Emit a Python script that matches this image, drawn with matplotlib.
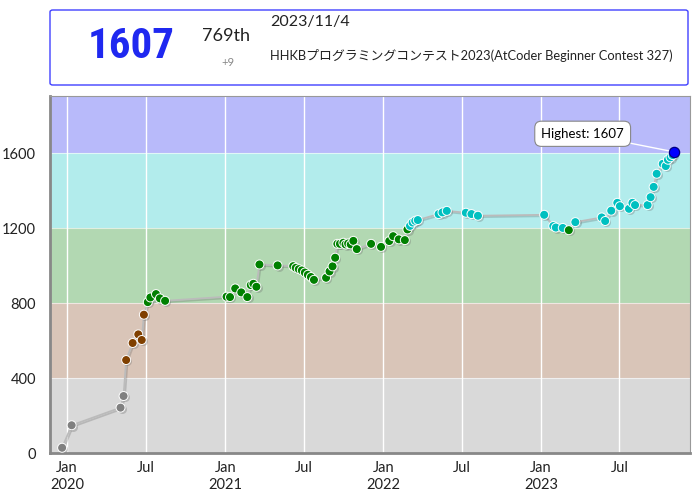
import numpy as np
import pandas as pd
import matplotlib
matplotlib.use('Agg')
import matplotlib.pyplot as plt
import matplotlib.dates as mdates
import matplotlib.patheffects as pe
import matplotlib.transforms as mtransforms
from matplotlib.patches import FancyBboxPatch

plt.rcParams['font.family'] = ['Lato', 'Noto Sans CJK JP', 'DejaVu Sans']

# ---- data ----
dates = [
    '2019-12-21', '2020-01-12', '2020-05-04', '2020-05-11', '2020-05-17', '2020-06-01',
    '2020-06-14', '2020-06-22', '2020-06-27', '2020-07-06', '2020-07-12', '2020-07-25',
    '2020-08-03', '2020-08-15',
    '2021-01-04', '2021-01-12', '2021-01-24', '2021-02-07', '2021-02-21', '2021-03-01',
    '2021-03-07', '2021-03-14', '2021-03-21', '2021-05-02', '2021-06-07', '2021-06-13',
    '2021-06-20', '2021-06-27', '2021-07-04', '2021-07-11', '2021-07-18', '2021-07-25',
    '2021-08-22', '2021-08-30', '2021-09-06', '2021-09-12', '2021-09-17', '2021-09-23',
    '2021-10-01', '2021-10-06', '2021-10-12', '2021-10-18', '2021-10-24', '2021-11-01',
    '2021-12-04', '2021-12-27',
    '2022-01-15', '2022-01-24', '2022-02-06', '2022-02-20', '2022-02-26', '2022-03-04',
    '2022-03-10', '2022-03-16', '2022-03-22', '2022-05-09', '2022-05-18', '2022-05-28',
    '2022-07-11', '2022-07-24', '2022-08-08',
    '2023-01-08', '2023-01-29', '2023-02-04', '2023-02-20', '2023-03-06', '2023-03-21',
    '2023-05-21', '2023-05-29', '2023-06-12', '2023-06-26', '2023-07-02', '2023-07-23',
    '2023-07-31', '2023-08-06', '2023-09-04', '2023-09-11', '2023-09-18', '2023-09-25',
    '2023-10-09', '2023-10-16', '2023-10-21', '2023-10-27', '2023-11-01', '2023-11-04',
]
ratings = [
    28, 148, 242, 304, 496, 587, 633, 603, 738, 805, 830, 848, 825, 812,
    834, 832, 878, 857, 832, 896, 903, 887, 1006, 1001, 997, 988,
    981, 974, 963, 951, 939, 924, 935, 969, 996, 1042, 1116, 1116,
    1122, 1113, 1118, 1113, 1132, 1088, 1116, 1100,
    1131, 1157, 1140, 1136, 1193, 1212, 1230, 1239, 1243, 1275, 1284, 1292,
    1282, 1275, 1266,
    1271, 1211, 1203, 1201, 1189, 1232, 1257, 1238, 1293, 1335, 1317, 1303,
    1335, 1323, 1323, 1365, 1420, 1490, 1543, 1531, 1565, 1578, 1590, 1607,
]

band_edges = [0, 400, 800, 1200, 1600, 1905]
band_colors = ['#D9D9D9', '#D9C5B8', '#B2D8B2', '#B2ECEC', '#B8BAFA']
dot_colors = ['#808080', '#804000', '#008000', '#00C0C0', '#0000FF']

rating_now = 1607
rank = '769th'
diff = '+9'
contest_date = '2023/11/4'
contest_name = 'HHKBプログラミングコンテスト2023(AtCoder Beginner Contest 327)'

dts = pd.to_datetime(dates)
r = np.array(ratings)

def color_of(v):
    idx = min(v // 400, 4)
    return dot_colors[idx]

# ---- figure ----
fig = plt.figure(figsize=(6.97, 4.90), dpi=100)
ax = fig.add_axes([50 / 697, 37 / 490, 640 / 697, 357 / 490])

for i in range(len(band_colors)):
    ax.axhspan(band_edges[i], band_edges[i + 1], color=band_colors[i], lw=0, zorder=0)
for y in band_edges[1:-1]:
    ax.axhline(y, color='white', lw=0.8, alpha=0.6, zorder=1)

ax.set_ylim(0, 1905)
ax.set_xlim(pd.Timestamp('2019-11-23'), pd.Timestamp('2023-12-11'))

ax.xaxis.set_major_locator(mdates.MonthLocator(bymonth=[1, 7]))
def fmt_date(x, pos=None):
    d = mdates.num2date(x)
    return 'Jan\n%d' % d.year if d.month == 1 else 'Jul'
ax.xaxis.set_major_formatter(plt.FuncFormatter(fmt_date))
ax.set_yticks([0, 400, 800, 1200, 1600])
ax.tick_params(length=0, labelsize=10.5, colors='#222222', pad=6)
ax.tick_params(axis='y', pad=10)
ax.grid(axis='x', color='white', lw=1, zorder=1)
ax.set_axisbelow(True)

for s in ['top', 'right']:
    ax.spines[s].set_color('#999999')
    ax.spines[s].set_linewidth(0.8)
for s in ['left', 'bottom']:
    ax.spines[s].set_color('#888888')
    ax.spines[s].set_linewidth(2)

shadow = [pe.SimpleLineShadow(offset=(1.0, -1.0), alpha=0.25, shadow_color='#555555'), pe.Normal()]
ax.plot(dts, r, color='#BBBBBB', lw=1.3, zorder=2, path_effects=shadow)

cols = [color_of(v) for v in r]
shift = ax.transData + mtransforms.ScaledTranslation(1.3 / 100, -1.3 / 100, fig.dpi_scale_trans)
ax.scatter(dts, r, s=42, c='#666666', alpha=0.3, lw=0, zorder=2.5, transform=shift)
ax.scatter(dts[:-1], r[:-1], s=42, c=cols[:-1], edgecolors='white', linewidths=0.7, zorder=3)
ax.scatter(dts[-1:], r[-1:], s=55, c=[cols[-1]], edgecolors='#000080', linewidths=0.9, zorder=4)

# highest label
ax.annotate('Highest: %d' % r.max(), xy=(dts[-1], r[-1]), xytext=(-36, 13),
            textcoords='offset points', ha='right', va='center', fontsize=9.5,
            bbox=dict(boxstyle='round,pad=0.5', fc='white', ec='#888888', lw=0.8),
            arrowprops=dict(arrowstyle='-', color='white', lw=1.0, shrinkA=0, shrinkB=4),
            zorder=5)

# ---- header box ----
box = FancyBboxPatch((50 / 697, 1 - 85 / 490), 638 / 697, 75 / 490,
                     boxstyle='round,pad=0,rounding_size=0.004', transform=fig.transFigure,
                     fc='white', ec='#4040FF', lw=1.0)
fig.patches.append(box)
fig.text(131 / 697, 1 - 47 / 490, str(rating_now), ha='center', va='center', fontsize=31,
         fontweight='bold', color='#1F28F0',
         family=['Liberation Sans Narrow', 'DejaVu Sans Condensed', 'Roboto Condensed', 'Roboto'])
fig.text(226 / 697, 1 - 36 / 490, rank, ha='center', va='center', fontsize=13, color='#222222')
fig.text(228 / 697, 1 - 62 / 490, diff, ha='center', va='center', fontsize=8, color='#888888')
fig.text(270 / 697, 1 - 22 / 490, contest_date, ha='left', va='center', fontsize=11.5, color='#222222')
fig.text(270 / 697, 1 - 56 / 490, contest_name, ha='left', va='center', fontsize=9.3,
         color='#222222', family=['Lato', 'Noto Sans CJK JP'])

fig.savefig('out.png', dpi=100)
